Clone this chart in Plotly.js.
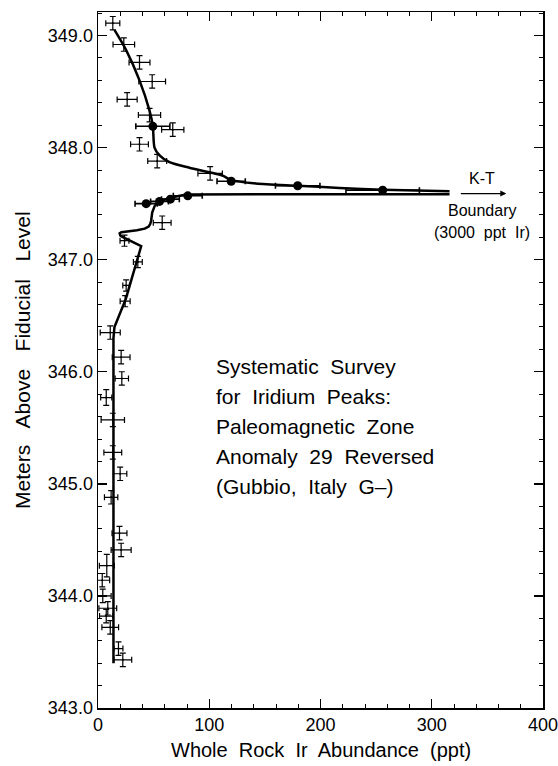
<!DOCTYPE html>
<html>
<head>
<meta charset="utf-8">
<script src="https://cdn.plot.ly/plotly-3.0.1.min.js"></script>
<style>html,body{margin:0;padding:0;background:#fff;}#chart{width:558px;height:766px;}</style>
</head>
<body>
<div id="chart"></div>
<script>
// Open crosses (samples with error bars)
const crossX = [13.3, 23.2, 37.3, 48.7, 26.2, 46.3, 67.2, 37.3, 53.2, 100.8,
                57.7, 23.8, 35.8, 25.3, 24.4, 11, 20.8, 21.4, 7.4, 13.3,
                13.3, 19.9, 11.8, 19.3, 20.8, 7.9, 3.8, 4.3, 8.8, 7.4, 11, 18.4, 22.3];
const crossY = [349.11, 348.92, 348.76, 348.59, 348.43, 348.29, 348.16, 348.03, 347.88, 347.77,
                347.33, 347.17, 346.98, 346.77, 346.63, 346.35, 346.13, 345.94, 345.77, 345.57,
                345.28, 345.09, 344.88, 344.56, 344.41, 344.27, 344.14, 344.00, 343.89, 343.82, 343.72, 343.53, 343.43];
const crossErrX = [6.3, 9.7, 9.4, 12, 9, 10, 10, 8, 8.5, 11,
                   8, 4, 4, 3, 4.5, 9, 8, 6, 5, 10.5,
                   8, 6, 6, 6.7, 9, 6.7, 6.7, 7.5, 8, 6, 7.5, 4, 8];
const crossErrY = [0.06, 0.06, 0.06, 0.06, 0.06, 0.06, 0.06, 0.06, 0.06, 0.06,
                   0.06, 0.05, 0.05, 0.05, 0.05, 0.06, 0.06, 0.06, 0.07, 0.06,
                   0.06, 0.06, 0.06, 0.06, 0.06, 0.1, 0.06, 0.06, 0.06, 0.06, 0.06, 0.06, 0.06];

// Filled dots near the K-T boundary
const dotX = [49.3, 119.7, 179.5, 255.9, 43.3, 55.3, 65.1, 80.7];
const dotY = [348.19, 347.70, 347.66, 347.62, 347.50, 347.52, 347.54, 347.57];
const dotErrX = [15.3, 12.7, 20, 33, 10, 8, 8, 13];

// Smooth curves
const upperX = [14.8, 25.3, 37.3, 46.3, 49.3, 50.8, 55.3, 64.2, 82.2, 112, 119.7, 142, 179.5, 217, 255.9, 316];
const upperY = [349.05, 348.87, 348.60, 348.33, 348.19, 348.00, 347.93, 347.87, 347.82, 347.75, 347.71, 347.68, 347.66, 347.64, 347.625, 347.61];
const lowerX = [316, 100, 79, 66, 55, 51, 48.7, 47.8, 47.0, 45.5, 42, 35, 28, 21, 19.5, 20, 21.5, 38.8, 25, 14.8, 13.9, 13.9];
const lowerY = [347.585, 347.585, 347.582, 347.555, 347.52, 347.48, 347.42, 347.35, 347.32, 347.295, 347.277, 347.263, 347.255, 347.245, 347.235, 347.215, 347.205, 347.12, 346.65, 346.40, 346.30, 343.40];

const xTickVals = [0, 100, 200, 300, 400];
const yTickVals = [343, 344, 345, 346, 347, 348, 349];
const yTickText = ['343.0', '344.0', '345.0', '346.0', '347.0', '348.0', '349.0'];

const noteLines = ['Systematic  Survey', 'for  Iridium  Peaks:', 'Paleomagnetic  Zone', 'Anomaly  29  Reversed', '(Gubbio,  Italy  G\u2013)'];
const ktLines = ['K-T', 'Boundary', '(3000  ppt  Ir)'];
const xTitle = 'Whole  Rock  Ir  Abundance  (ppt)';
const yTitle = 'Meters   Above   Fiducial   Level';

const FONT = 'Liberation Sans, Arial, Helvetica, sans-serif';

const traces = [
  {x: upperX, y: upperY, mode: 'lines', line: {color: 'black', width: 2.5, shape: 'spline', smoothing: 0.7}, hoverinfo: 'skip'},
  {x: lowerX, y: lowerY, mode: 'lines', line: {color: 'black', width: 2.5, shape: 'linear'}, hoverinfo: 'skip'},
  {x: crossX, y: crossY, mode: 'markers', marker: {size: 2, color: 'black'},
   error_x: {type: 'data', array: crossErrX, visible: true, color: 'black', thickness: 1.2, width: 3},
   error_y: {type: 'data', array: crossErrY, visible: true, color: 'black', thickness: 1.2, width: 3}},
  {x: dotX, y: dotY, mode: 'markers', marker: {size: 9, color: 'black'},
   error_x: {type: 'data', array: dotErrX, visible: true, color: 'black', thickness: 1.6, width: 3}}
];

const annotations = [];
const noteYs = [346.047, 345.78, 345.512, 345.244, 344.977];
noteLines.forEach((t, i) => annotations.push({
  x: 104.7, y: noteYs[i], xref: 'x', yref: 'y', xanchor: 'left', yanchor: 'middle',
  text: t, showarrow: false, font: {family: FONT, size: 21, color: 'black'}
}));
const ktYs = [347.724, 347.44, 347.243];
ktLines.forEach((t, i) => annotations.push({
  x: 345.5, y: ktYs[i], xref: 'x', yref: 'y', xanchor: 'center', yanchor: 'middle',
  text: t, showarrow: false, font: {family: FONT, size: 16, color: 'black'}
}));
annotations.push({
  x: 367, y: 347.59, ax: 324.8, ay: 347.59, xref: 'x', yref: 'y', axref: 'x', ayref: 'y',
  text: '', showarrow: true, arrowhead: 2, arrowsize: 1, arrowwidth: 1.2, arrowcolor: 'black'
});
annotations.push({
  x: 0.5, y: 0, xref: 'paper', yref: 'paper', xanchor: 'center', yanchor: 'middle', yshift: -42,
  text: xTitle, showarrow: false, font: {family: FONT, size: 20, color: 'black'}
});
annotations.push({
  x: 0, y: 0.5, xref: 'paper', yref: 'paper', xanchor: 'center', yanchor: 'middle', xshift: -76,
  textangle: -90, text: yTitle, showarrow: false, font: {family: FONT, size: 21, color: 'black'}
});

const axisCommon = {
  ticks: 'inside', tickcolor: 'black', tickwidth: 1.3, ticklen: 9,
  showline: true, linecolor: 'black', linewidth: 1.5, mirror: 'allticks',
  showgrid: false, zeroline: false, ticklabeloverflow: 'allow',
  tickfont: {family: FONT, size: 18, color: 'black'}
};

const layout = {
  width: 558, height: 766,
  margin: {l: 98, r: 15, t: 12, b: 58},
  paper_bgcolor: 'white', plot_bgcolor: 'white',
  showlegend: false,
  font: {family: FONT, color: 'black'},
  xaxis: Object.assign({}, axisCommon, {
    range: [0, 400], tickvals: xTickVals,
    minor: {dtick: 20, tick0: 0, ticks: 'inside', ticklen: 4, tickcolor: 'black', tickwidth: 1, showgrid: false}
  }),
  yaxis: Object.assign({}, axisCommon, {
    range: [343.0, 349.21], tickvals: yTickVals, ticktext: yTickText,
    minor: {dtick: 0.2, tick0: 343, ticks: 'inside', ticklen: 4, tickcolor: 'black', tickwidth: 1, showgrid: false}
  }),
  annotations: annotations
};

Plotly.newPlot('chart', traces, layout, {staticPlot: true, displayModeBar: false});
</script>
</body>
</html>
